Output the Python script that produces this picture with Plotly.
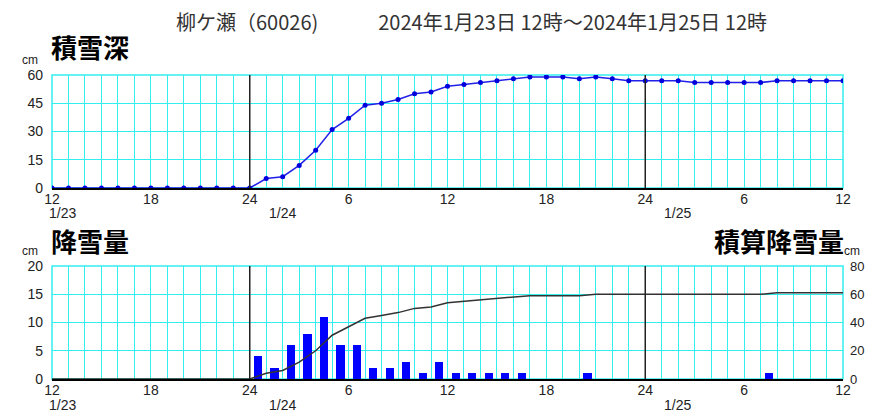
import plotly.graph_objects as go

# hours since 2024-01-23 12:00
hours = list(range(49))
depth = [0, 0, 0, 0, 0, 0, 0, 0, 0, 0, 0, 0, 0,
         5, 6, 12, 20, 31, 37, 44, 45, 47, 50, 51, 54,
         55, 56, 57, 58, 59, 59, 59, 58, 59, 58, 57, 57,
         57, 57, 56, 56, 56, 56, 56, 57, 57, 57, 57, 57]
snow_hours = list(range(1, 49))
snowfall = [0, 0, 0, 0, 0, 0, 0, 0, 0, 0, 0, 0,
            4, 2, 6, 8, 11, 6, 6, 2, 2, 3, 1, 3,
            1, 1, 1, 1, 1, 0, 0, 0, 1, 0, 0, 0,
            0, 0, 0, 0, 0, 0, 0, 1, 0, 0, 0, 0]
cumulative = [0, 0, 0, 0, 0, 0, 0, 0, 0, 0, 0, 0, 0,
              4, 6, 12, 20, 31, 37, 43, 45, 47, 50, 51, 54,
              55, 56, 57, 58, 59, 59, 59, 59, 60, 60, 60, 60,
              60, 60, 60, 60, 60, 60, 60, 61, 61, 61, 61, 61]
hour_labels = ["12", "18", "24", "6", "12", "18", "24", "6", "12"]
date_labels = ["1/23", "1/24", "1/25"]
title_text = "柳ケ瀬（60026)　　　2024年1月23日 12時～2024年1月25日 12時"

# page body has an 8px margin; lay out in window pixel coordinates and compensate
OFF = 8
W, H = 875 - OFF, 412 - OFF
X0, X1 = 52, 843
CYAN = "#33eeee"
TICKFONT = dict(family="Liberation Sans", size=14, color="#222")


def px(x):
    return (x - OFF) / W


def py(y):
    return 1 - (y - OFF) / H


tickvals = hours
ticktext = []
for h in hours:
    ticktext.append(hour_labels[h // 6] if h % 6 == 0 else "")

fig = go.Figure()
fig.add_trace(go.Scatter(x=hours, y=depth, xaxis="x", yaxis="y", mode="lines+markers",
                         line=dict(color="#2020e8", width=1.5),
                         marker=dict(size=5, color="#0000dd"), hoverinfo="skip"))
fig.add_trace(go.Bar(x=snow_hours, y=snowfall, xaxis="x2", yaxis="y2", width=0.5, offset=-0.75,
                     marker=dict(color="#0000ff", line=dict(width=0)), hoverinfo="skip"))
fig.add_trace(go.Scatter(x=hours, y=cumulative, xaxis="x2", yaxis="y3", mode="lines",
                         line=dict(color="#333333", width=1.5), hoverinfo="skip"))

xcommon = dict(range=[0, 48], tickmode="array", tickvals=tickvals, ticktext=ticktext,
               showgrid=True, gridcolor=CYAN, gridwidth=1, showline=True, linecolor="black",
               linewidth=1.5, ticks="", tickfont=TICKFONT, zeroline=False, automargin=False,
               domain=[px(X0), px(X1)], fixedrange=True, ticklabelstandoff=-3)

ycommon = dict(tickmode="linear", tick0=0, showgrid=True, gridcolor=CYAN, gridwidth=1,
               zeroline=False, showline=False, ticks="", tickfont=TICKFONT, automargin=False,
               fixedrange=True, ticklabelstandoff=8)

fig.update_layout(
    template="none",
    width=W, height=H, margin=dict(l=0, r=0, t=0, b=0),
    plot_bgcolor="white", paper_bgcolor="white", showlegend=False, bargap=0,
    xaxis=dict(xcommon, anchor="y"),
    xaxis2=dict(xcommon, anchor="y2"),
    yaxis=dict(ycommon, domain=[py(188), py(75)], range=[0, 60], dtick=15),
    yaxis2=dict(ycommon, domain=[py(379), py(266)], range=[0, 20], dtick=5),
    yaxis3=dict(overlaying="y2", side="right", anchor="x2", range=[0, 80], tickmode="linear",
                tick0=0, dtick=20, showgrid=False, zeroline=False, showline=False, ticks="",
                tickfont=dict(family="Liberation Sans", size=13, color="#222"),
                automargin=False, fixedrange=True, ticklabelstandoff=6),
)

shapes = []
for xa, ya in (("x", "y"), ("x2", "y2")):
    shapes.append(dict(type="rect", xref=xa + " domain", yref=ya + " domain", x0=0, x1=1, y0=0, y1=1,
                       line=dict(color=CYAN, width=1.5), layer="below"))
    for xv in (12, 36):
        shapes.append(dict(type="line", xref=xa, yref=ya + " domain", x0=xv, x1=xv, y0=0, y1=1,
                           line=dict(color="#222", width=1.5)))
fig.update_layout(shapes=shapes)

ann = []
ann.append(dict(text=title_text, x=px(472), y=py(21), xref="paper", yref="paper", showarrow=False,
                xanchor="center", yanchor="middle",
                font=dict(family="Noto Sans CJK JP", size=20, color="#333")))
bold = dict(family="Noto Sans CJK JP", size=26, color="black")
for txt, xx, yy, xa in (("<b>積雪深</b>", 49, 47, "left"), ("<b>降雪量</b>", 49, 241, "left"),
                        ("<b>積算降雪量</b>", 846, 241, "right")):
    ann.append(dict(text=txt, x=px(xx), y=py(yy), xref="paper", yref="paper", showarrow=False,
                    xanchor=xa, yanchor="middle", font=bold))
small = dict(family="Liberation Sans", size=12, color="#222")
for (xx, yy) in ((30, 60), (30, 251), (852, 251)):
    ann.append(dict(text="cm", x=px(xx), y=py(yy), xref="paper", yref="paper", showarrow=False,
                    xanchor="center", yanchor="middle", font=small))
for yrow in (213, 405):
    for lab, xx in zip(date_labels, (62, 282, 677)):
        ann.append(dict(text=lab, x=px(xx), y=py(yrow), xref="paper", yref="paper", showarrow=False,
                        xanchor="center", yanchor="middle", font=TICKFONT))
fig.update_layout(annotations=ann)

fig.write_html("out.html")
